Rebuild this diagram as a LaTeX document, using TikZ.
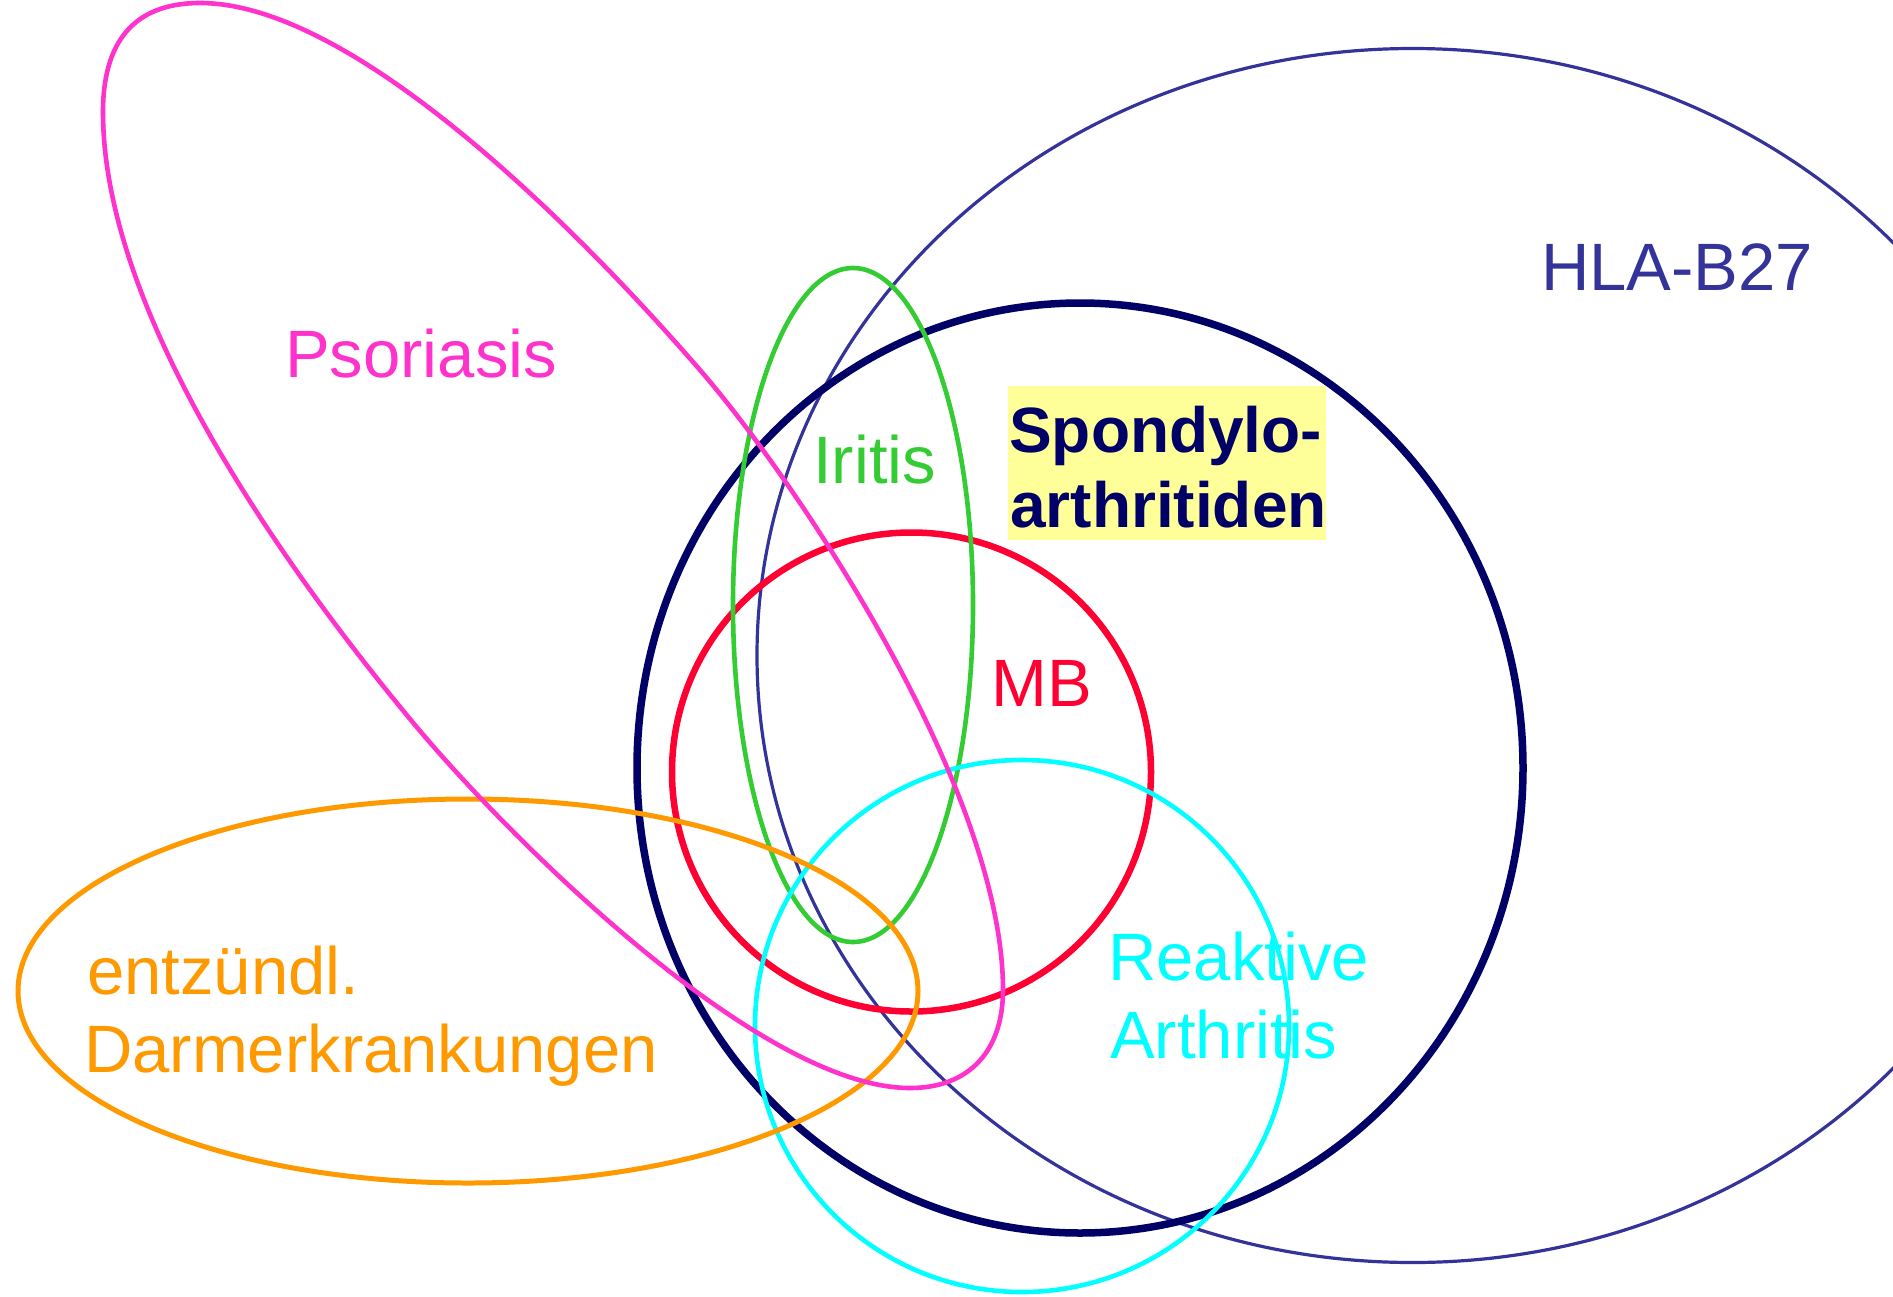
\documentclass[tikz,border=0pt]{standalone}
\usepackage{fontspec}
\setmainfont{Liberation Sans}
\definecolor{hla}{HTML}{333399}
\definecolor{spondy}{HTML}{000066}
\definecolor{mbred}{HTML}{FF0033}
\definecolor{iritis}{HTML}{33CC33}
\definecolor{reakt}{HTML}{00FFFF}
\definecolor{darm}{HTML}{FF9900}
\definecolor{psor}{HTML}{FF33CC}
\definecolor{spyellow}{HTML}{FFFF99}
\begin{document}
\begin{tikzpicture}[x=1pt,y=-1pt,
  lab/.style={anchor=base west, inner sep=0pt, font=\fontsize{67}{78}\selectfont},
  blab/.style={anchor=base west, inner sep=0pt, font=\fontsize{64}{75}\selectfont\bfseries, text=spondy},
  set/.style={line join=round}]
\useasboundingbox (0,0) rectangle (1893,1296);
\fill[white] (0,0) rectangle (1893,1296);
\clip (0,0) rectangle (1893,1296);
% sets
\draw[set, hla, line width=3.2pt] (1412.5,655.5) ellipse [x radius=655.5, y radius=607];
\draw[set, spondy, line width=7.5pt] (1080,768) ellipse [x radius=443, y radius=465];
\draw[set, mbred, line width=6.5pt] (911.5,772) ellipse [x radius=239.5, y radius=239.5];
\draw[set, iritis, line width=4.6pt] (853,605) ellipse [x radius=120, y radius=337];
\draw[set, reakt, line width=4.6pt] (1022,1026) ellipse [x radius=267, y radius=266];
\draw[set, darm, line width=5pt] (468,991) ellipse [x radius=450, y radius=192];
\draw[set, psor, line width=4.6pt]
  (200,3) .. controls (350,3) and (569,219) .. (700,370)
  .. controls (798,483) and (1003,790) .. (1003,990)
  .. controls (1003,1050) and (970,1088) .. (910,1088)
  .. controls (760,1088) and (511,840) .. (415,725)
  .. controls (287,571.4) and (103,315) .. (103,112)
  .. controls (103,44) and (132,3) .. (200,3) -- cycle;
% labels
\node[lab, text=hla] (hlalab) at (1541,290) {HLA-B27};
\node[lab, text=psor] (psorlab) at (285,377) {Psoriasis};
\node[lab, text=iritis] (irilab) at (813,483) {Iritis};
\node[lab, text=mbred] (mblab) at (991,706) {MB};
\node[lab, text=reakt] (reak1) at (1108,980) {Reaktive};
\node[lab, text=reakt] (reak2) at (1110,1058) {Arthritis};
\node[lab, text=darm] (darm1) at (87,994) {entzündl.};
\node[lab, text=darm] (darm2) at (84,1072) {Darmerkrankungen};
\node[fill=spyellow, inner sep=0pt, anchor=north west, minimum width=318pt, minimum height=154pt] (spbox) at (1008,386) {};
\node[blab] (sp1) at (1009,452) {Spondylo-};
\node[blab] (sp2) at (1010,527) {arthritiden};
\end{tikzpicture}
\end{document}
